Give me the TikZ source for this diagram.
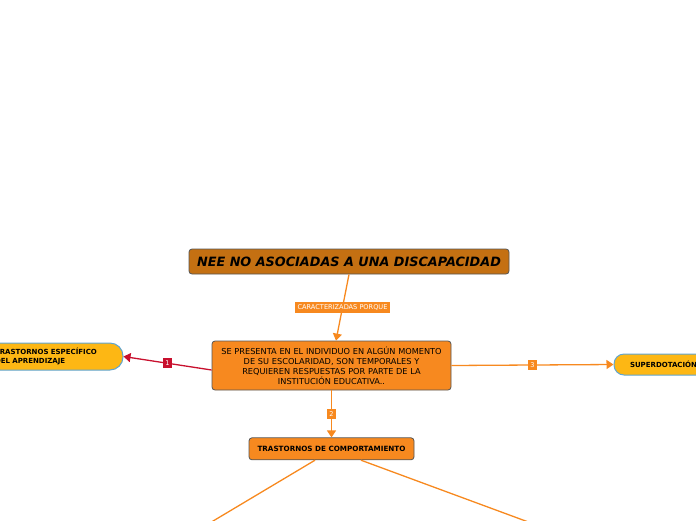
\documentclass[tikz,border=0pt]{standalone}
\usepackage{fontspec}
\setmainfont{DejaVu Sans}
\usepackage{xcolor}
\usetikzlibrary{arrows.meta,positioning}

\definecolor{neebrown}{RGB}{196,112,18}
\definecolor{neeorange}{RGB}{247,137,31}
\definecolor{pillyellow}{RGB}{253,183,20}
\definecolor{pillblue}{RGB}{95,165,210}
\definecolor{neecrimson}{RGB}{200,16,46}
\definecolor{edgegray}{RGB}{85,85,85}

\begin{document}
\begin{tikzpicture}[
  x=1pt, y=-1pt,
  font=\fontsize{8.2}{10}\selectfont,
  topic/.style={draw=edgegray, line width=0.8pt, rounded corners=3pt, fill=neeorange, align=center, inner sep=2pt},
  pill/.style={draw=pillblue, line width=1pt, rounded corners=10pt, fill=pillyellow, align=left, font=\fontsize{7}{9}\selectfont\bfseries},
  tag/.style={fill=neeorange, text=white, inner sep=2.4pt, font=\fontsize{6.6}{7}\selectfont},
  arr/.style={-{Triangle[length=7pt,width=9pt]}, line width=1.3pt, draw=neeorange}
]
\useasboundingbox (0,0) rectangle (696,520);

\node[topic, fill=neebrown, minimum width=320pt, minimum height=25pt, font=\fontsize{12.8}{14}\selectfont\bfseries\itshape] (nee) at (349,261.5) {NEE NO ASOCIADAS A UNA DISCAPACIDAD};
\node[topic, minimum width=239pt, minimum height=49pt, text width=232pt] (main) at (331.5,365.5) {SE PRESENTA EN EL INDIVIDUO EN ALGÚN MOMENTO\\DE SU ESCOLARIDAD, SON TEMPORALES Y\\REQUIEREN RESPUESTAS POR PARTE DE LA\\INSTITUCIÓN EDUCATIVA..};
\node[topic, below=47pt of main, minimum width=165pt, minimum height=22pt, font=\fontsize{7.2}{8.5}\selectfont\bfseries] (tdc) {TRASTORNOS DE COMPORTAMIENTO};
\node[pill, minimum width=136pt, minimum height=27pt, text width=120pt, rounded corners=13pt] (tea) at (55,356.5) {TRASTORNOS ESPECÍFICO\\DEL APRENDIZAJE};
\node[pill, minimum width=130pt, minimum height=21pt, text width=110pt] (sup) at (679,364.5) {\hspace*{6pt}SUPERDOTACIÓN};

\coordinate (lft) at (198,530);
\coordinate (rgt) at (550,530);

% connectors
\draw[arr] (nee.south) -- node[tag] {CARACTERIZADAS PORQUE} ([xshift=4.5pt]main.north);
\draw[arr, draw=neecrimson] ([yshift=-4.5pt]main.west) -- node[tag, fill=neecrimson] {1} (tea.east);
\draw[arr] (main.south) -- node[tag] {2} (tdc.north);
\draw[arr] (main.east) -- node[tag] {3} (sup.west);
\draw[line width=1.3pt, neeorange] ([xshift=-16.5pt]tdc.south) -- (lft);
\draw[line width=1.3pt, neeorange] ([xshift=29.5pt]tdc.south) -- (rgt);
\end{tikzpicture}
\end{document}
